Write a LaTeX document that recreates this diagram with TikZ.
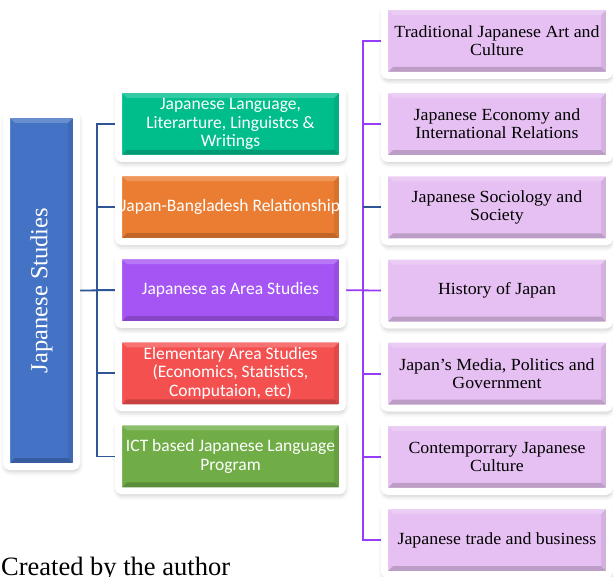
\documentclass[tikz,border=0pt]{standalone}
\usepackage{fontspec}
\setmainfont{Liberation Serif}
\newfontfamily\boxsans{Carlito}
\newfontfamily\topicserif[FakeStretch=1.05, Ligatures=TeX]{Liberation Serif}
\usetikzlibrary{shadows.blur}
\usetikzlibrary{calc}
\usetikzlibrary{backgrounds}

\definecolor{rootblue}{RGB}{68,114,196}
\definecolor{langgreen}{RGB}{0,190,140}
\definecolor{relorange}{RGB}{235,125,50}
\definecolor{areapurple}{RGB}{166,85,245}
\definecolor{elemred}{RGB}{245,80,80}
\definecolor{ictgreen}{RGB}{112,173,71}
\definecolor{topiclilac}{RGB}{230,192,242}
\definecolor{treeblue}{RGB}{47,85,151}
\definecolor{treepurple}{RGB}{150,60,250}

\tikzset{
	bevelbox/.style={draw=white, line width=7pt, rounded corners=3.5pt,
		blur shadow={shadow xshift=0.5pt, shadow yshift=-3pt, shadow blur radius=6pt, shadow opacity=35},
		path picture={
			\fill[black, opacity=.18, sharp corners] (path picture bounding box.south west) -- (path picture bounding box.south east) -- ++(-8.5pt,8.5pt) -- ($(path picture bounding box.south west)+(8.5pt,8.5pt)$) -- cycle;
			\fill[black, opacity=.08, sharp corners] (path picture bounding box.south east) -- (path picture bounding box.north east) -- ++(-8.5pt,-8.5pt) -- ($(path picture bounding box.south east)+(-8.5pt,8.5pt)$) -- cycle;
			\fill[white, opacity=.2, sharp corners] (path picture bounding box.north west) -- (path picture bounding box.north east) -- ++(-8.5pt,-8.5pt) -- ($(path picture bounding box.north west)+(8.5pt,-8.5pt)$) -- cycle;
		}},
	rootbox/.style={bevelbox, fill=rootblue, minimum width=70pt, minimum height=352pt, inner sep=0pt, text=white, font=\fontsize{24.5}{26}\selectfont},
	midbox/.style={bevelbox, minimum width=224pt, minimum height=69pt, inner sep=0pt, align=center, text=white, font=\boxsans\fontsize{17.5}{18.3}\selectfont},
	topicbox/.style={bevelbox, fill=topiclilac, minimum width=225pt, minimum height=69pt, inner sep=0pt, align=center, font=\topicserif\fontsize{17}{18}\selectfont},
	tline/.style={line width=1.8pt}
}

\begin{document}
\begin{tikzpicture}[x=1pt, y=-1pt]
	\useasboundingbox (0,0) rectangle (613,577);
	\node[rootbox] (r) at (41.5,290.5) {\rotatebox{90}{Japanese Studies}};
	\foreach \c/\t [count=\i] in {langgreen/{Japanese Language,\\Literarture, Linguistcs \&\\Writings}, relorange/{\makebox[190pt]{Japan-Bangladesh Relationship}}, areapurple/{Japanese as Area Studies}, elemred/{Elementary Area Studies\\(Economics, Statistics,\\Computaion, etc)}, ictgreen/{ICT based Japanese Language\\Program}}{
		\node[midbox, fill=\c] (m\i) at (230.5,{124+83.1*(\i-1)}) {\t};
	}
	\foreach \t [count=\i] in {{Traditional Japanese Art and\\Culture}, {Japanese Economy and\\International Relations}, {Japanese Sociology and\\Society}, {History of Japan}, {Japan’s Media, Politics and\\Government}, {Contemporrary Japanese\\Culture}, {Japanese trade and business}}{
		\node[topicbox] (s\i) at (497,{41+83.17*(\i-1)}) {\t};
	}
	\node[anchor=base west, inner sep=0pt, font=\fontsize{26.5}{30}\selectfont] (cap) at (1,575.5) {Created by the author};
	\coordinate (lt) at (97,290.5);
	\coordinate (rt) at (363,290);
	\begin{scope}[on background layer]
		\draw[tline, treeblue] (m1.west) -| (lt) |- (m5.west);
		\foreach \i in {2,3,4}{
			\draw[tline, treeblue] (m\i.west) -- (m\i.west -| lt);
		}
		\draw[tline, treeblue] (r.east) -- (m3.west);
		\draw[tline, treepurple] (s1.west) -| (rt) |- (s7.west);
		\foreach \i in {2,4,5,6}{
			\draw[tline, treepurple] (s\i.west) -- (s\i.west -| rt);
		}
		\draw[tline, treeblue] (s3.west) -- (s3.west -| rt);
		\draw[tline, treepurple] (m3.east) -- (s4.west);
	\end{scope}
\end{tikzpicture}
\end{document}
